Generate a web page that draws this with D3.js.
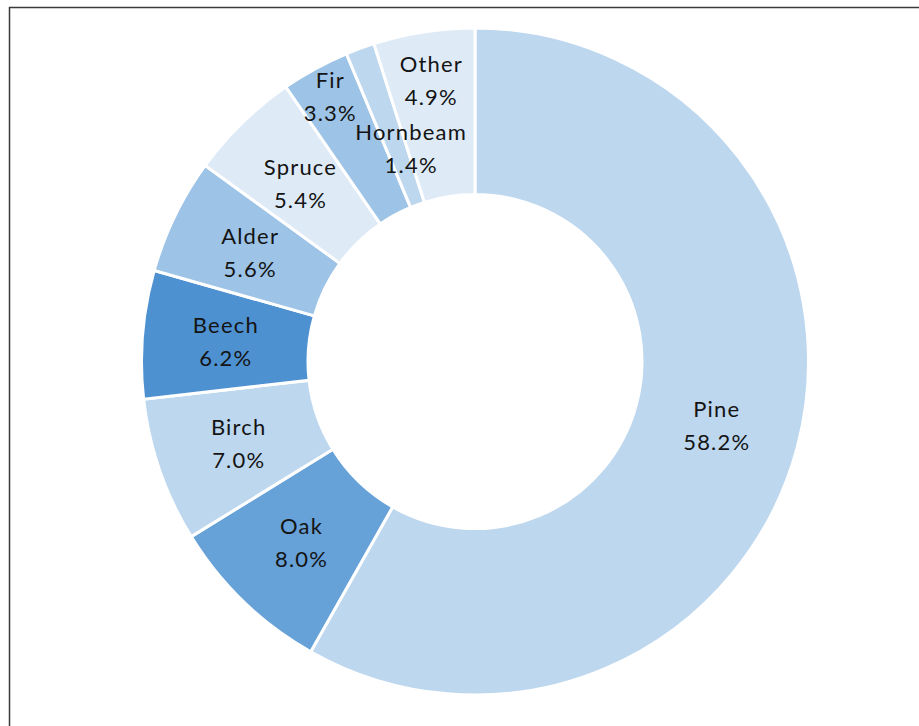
<!DOCTYPE html>
<html>
<head>
<meta charset="utf-8">
<script src="https://cdn.jsdelivr.net/npm/d3@7"></script>
<style>
  html, body { margin: 0; padding: 0; background: #ffffff; }
  svg { display: block; }
</style>
</head>
<body>
<svg id="chart" width="919" height="726"></svg>
<script>
// ---- data ----
const categories = ["Pine", "Oak", "Birch", "Beech", "Alder", "Spruce", "Fir", "Hornbeam", "Other"];
const shares = [58.2, 8.0, 7.0, 6.2, 5.6, 5.4, 3.3, 1.4, 4.9];
const labelTexts = ["58.2%", "8.0%", "7.0%", "6.2%", "5.6%", "5.4%", "3.3%", "1.4%", "4.9%"];
const sliceColors = ["#BDD7EE", "#66A1D8", "#BDD7EE", "#4E91D1", "#9DC3E6", "#DEEBF7", "#9DC3E6", "#BDD7EE", "#DEEBF7"];

// ---- layout ----
const W = 919, H = 726;
const cx = 475, cy = 361.5;
const outerR = 333.5, innerR = 167;
const defaultLabelR = 250;
const labelRadius = { "Fir": 302, "Hornbeam": 223, "Other": 285 };
const labelNudge = { "Hornbeam": [13, -4] };

const svg = d3.select("#chart");

// frame
svg.append("rect")
  .attr("x", 9.5).attr("y", 7.5)
  .attr("width", W + 20).attr("height", H + 20)
  .attr("fill", "none")
  .attr("stroke", "#3a3a3a")
  .attr("stroke-width", 1.5);

const data = categories.map((c, i) => ({ name: c, value: shares[i], label: labelTexts[i], color: sliceColors[i] }));

const pie = d3.pie().value(d => d.value).sort(null);
const arcs = pie(data);

const arc = d3.arc().innerRadius(innerR).outerRadius(outerR);

const g = svg.append("g").attr("transform", `translate(${cx},${cy})`);

g.selectAll("path.slice")
  .data(arcs)
  .join("path")
  .attr("class", "slice")
  .attr("d", arc)
  .attr("fill", d => d.data.color)
  .attr("stroke", "#ffffff")
  .attr("stroke-width", 3)
  .attr("stroke-linejoin", "miter");

const labels = g.selectAll("g.lbl")
  .data(arcs)
  .join("g")
  .attr("class", "lbl")
  .attr("transform", d => {
    const r = labelRadius[d.data.name] || defaultLabelR;
    const c = d3.arc().innerRadius(r).outerRadius(r).centroid(d);
    const n = labelNudge[d.data.name] || [0, 0];
    return `translate(${c[0] + n[0]},${c[1] + n[1]})`;
  });

const fontFamily = "Lato, 'Open Sans', sans-serif";

labels.append("text")
  .attr("text-anchor", "middle")
  .attr("y", -8)
  .attr("font-family", fontFamily)
  .attr("font-size", 22)
  .attr("letter-spacing", 1.2)
  .attr("fill", "#141414")
  .text(d => d.data.name);

labels.append("text")
  .attr("text-anchor", "middle")
  .attr("y", 25)
  .attr("font-family", fontFamily)
  .attr("font-size", 22)
  .attr("letter-spacing", 1.2)
  .attr("fill", "#141414")
  .text(d => d.data.label);
</script>
</body>
</html>
